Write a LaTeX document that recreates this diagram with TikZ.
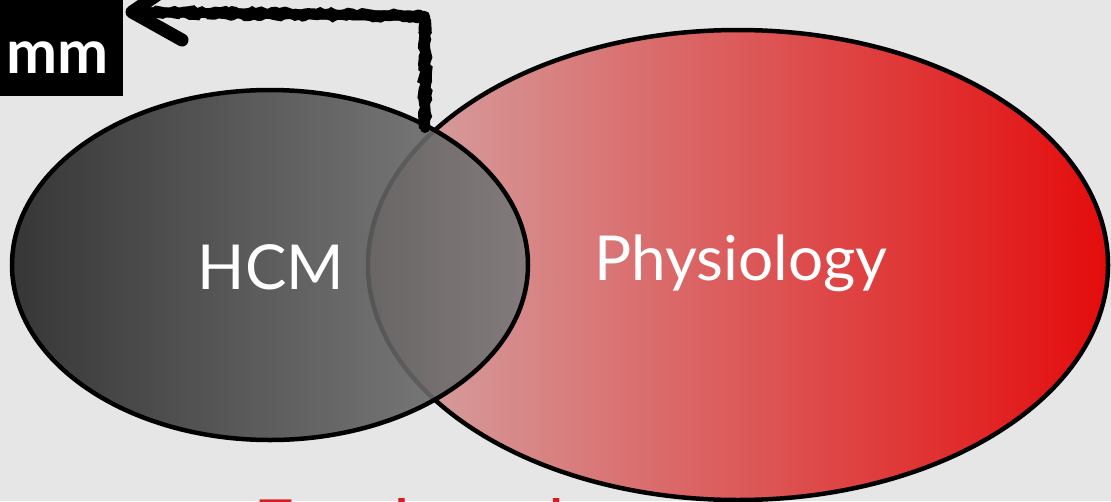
\documentclass[tikz,border=0pt]{standalone}
\usepackage{fontspec}
\setmainfont{Lato}
\usetikzlibrary{shapes.geometric,decorations.pathmorphing}
\definecolor{paper}{RGB}{230,230,230}
\definecolor{darkgray1}{RGB}{36,36,36}
\definecolor{midgray1}{RGB}{122,122,122}
\definecolor{pinkgray}{RGB}{212,168,168}
\definecolor{brightred}{RGB}{228,12,12}
\definecolor{labelred}{RGB}{214,30,30}
\tikzset{
  blob/.style={ellipse, draw=black, line width=4.5pt, inner sep=0, outer sep=0},
  setlabel/.style={text=white, font=\fontsize{62}{62}\selectfont},
  rough/.style={draw=black, line width=10pt, line cap=round, line join=round},
  roughedge/.style={draw=black, line width=3pt, line cap=round,
    decorate, decoration={random steps, segment length=4pt, amplitude=1.6pt}}
}
\begin{document}
\begin{tikzpicture}[x=1pt,y=-1pt]
  \useasboundingbox (0,0) rectangle (1111,501);
  \fill[paper] (0,0) rectangle (1111,501);
  \begin{scope}
    \clip (0,0) rectangle (1111,501);
    % caption below the diagram, mostly outside the frame
    \node[anchor=base west, inner sep=0, text=labelred,
      font=\fontsize{72}{72}\selectfont] (caption) at (253,551) {Employed};
    % physiology set
    \node[blob, left color=pinkgray, right color=brightred,
      minimum width=740, minimum height=470] (phys) at (738,265) {};
    \node[setlabel] (physlbl) at (741,263) {Physiology};
    % HCM set, laid over the other one
    \node[blob, left color=darkgray1, right color=midgray1, fill opacity=0.9,
      minimum width=516, minimum height=350] (hcm) at (270,265) {};
    \node[setlabel] (hcmlbl) at (271,267) {HCM};
  \end{scope}
  % hand-drawn arrow from the overlap to the corner label
  \coordinate (start) at (425,128);
  \coordinate (corner) at (425,16);
  \coordinate (tip) at (132,12);
  \coordinate (barbA) at (182,40);
  \coordinate (barbB) at (170,-14);
  \begin{scope}
    \clip (0,0) rectangle (1111,501);
    % solid marker stroke with a ragged rim on each side
    \draw[rough] (start) -- (corner) -- (tip);
    \draw[rough, line width=13pt] (barbA) -- (tip) -- (barbB);
    \draw[roughedge] ([xshift=-4.5pt]start) -- ([xshift=-4.5pt,yshift=4.5pt]corner) -- ([yshift=4.5pt]tip);
    \draw[roughedge] ([xshift=4.5pt]start) -- ([xshift=4.5pt,yshift=-4.5pt]corner) -- ([yshift=-4.5pt]tip);
  \end{scope}
  % corner label
  \fill[black] (0,0) rectangle (123,96);
  \node[anchor=base west, inner sep=0, text=white,
    font=\fontsize{61}{61}\selectfont\bfseries] (mmlbl) at (6,73) {mm};
\end{tikzpicture}
\end{document}
